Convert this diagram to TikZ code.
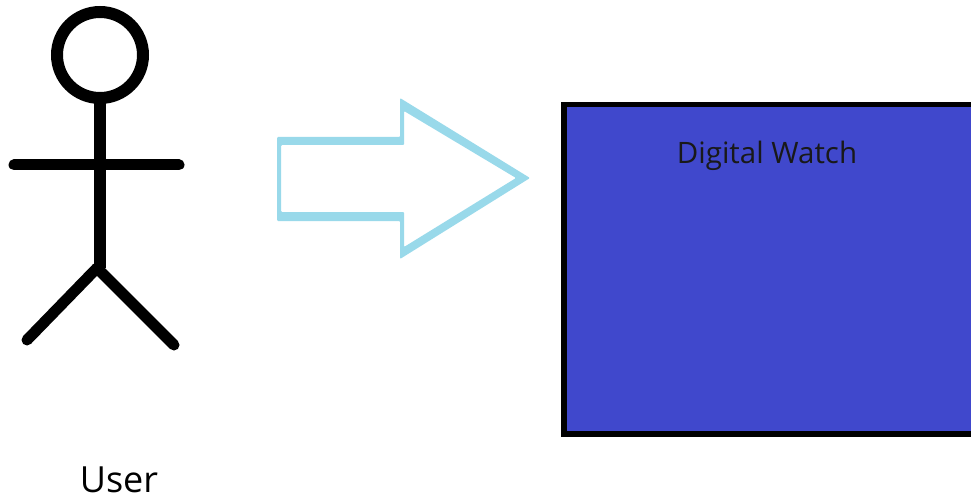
\documentclass[tikz,border=0pt]{standalone}
\usepackage{fontspec}
\setmainfont{Open Sans}
\usetikzlibrary{positioning}
\definecolor{watchblue}{RGB}{64, 72, 204}
\definecolor{arrowblue}{RGB}{153, 217, 234}
\begin{document}
\begin{tikzpicture}[x=1pt,y=-1pt]
    \tikzset{stick/.style={draw=black, line width=11pt, line cap=round, line join=round}}
    \useasboundingbox (0,0) rectangle (971,497);

    % The Figure
    \node[circle, draw=black, line width=12pt, minimum size=86pt, inner sep=0pt] (head) at (100,55) {};
    \coordinate (neck) at (100,98);
    \coordinate (waist) at (100,268);
    \coordinate (hip) at (97,268);
    \coordinate (lefthand) at (14,165);
    \coordinate (righthand) at (179,165);
    \coordinate (leftfoot) at (27,340);
    \coordinate (rightfoot) at (174,345);
    \draw[stick, line cap=butt, line width=12pt] (neck) -- (waist);
    \draw[stick] (lefthand) -- (righthand);
    \draw[stick] (leftfoot) -- (hip) -- (rightfoot);
    \node[font=\fontsize{36pt}{42pt}\selectfont, inner sep=0pt] (user) at (119,480) {User};

    % The Arrow
    \fill[arrowblue, even odd rule, rounded corners=1pt]
        (277,137) -- (400,137) -- (400,98) -- (530,178) -- (400,259) -- (400,221) -- (277,221) -- cycle
        (281,145) -- (404,145) -- (404,111) -- (516,178) -- (404,247) -- (404,212) -- (281,212) -- cycle;

    % The Watch
    \fill[watchblue] (564,104) rectangle (971,434);
    \draw[black, line width=5.5pt] (971,104.5) -- (564,104.5) -- (564,434) -- (971,434);
    \node[font=\fontsize{29.5pt}{35pt}\selectfont, text=black!90] (watch) at (767,156) {Digital Watch};
\end{tikzpicture}
\end{document}
